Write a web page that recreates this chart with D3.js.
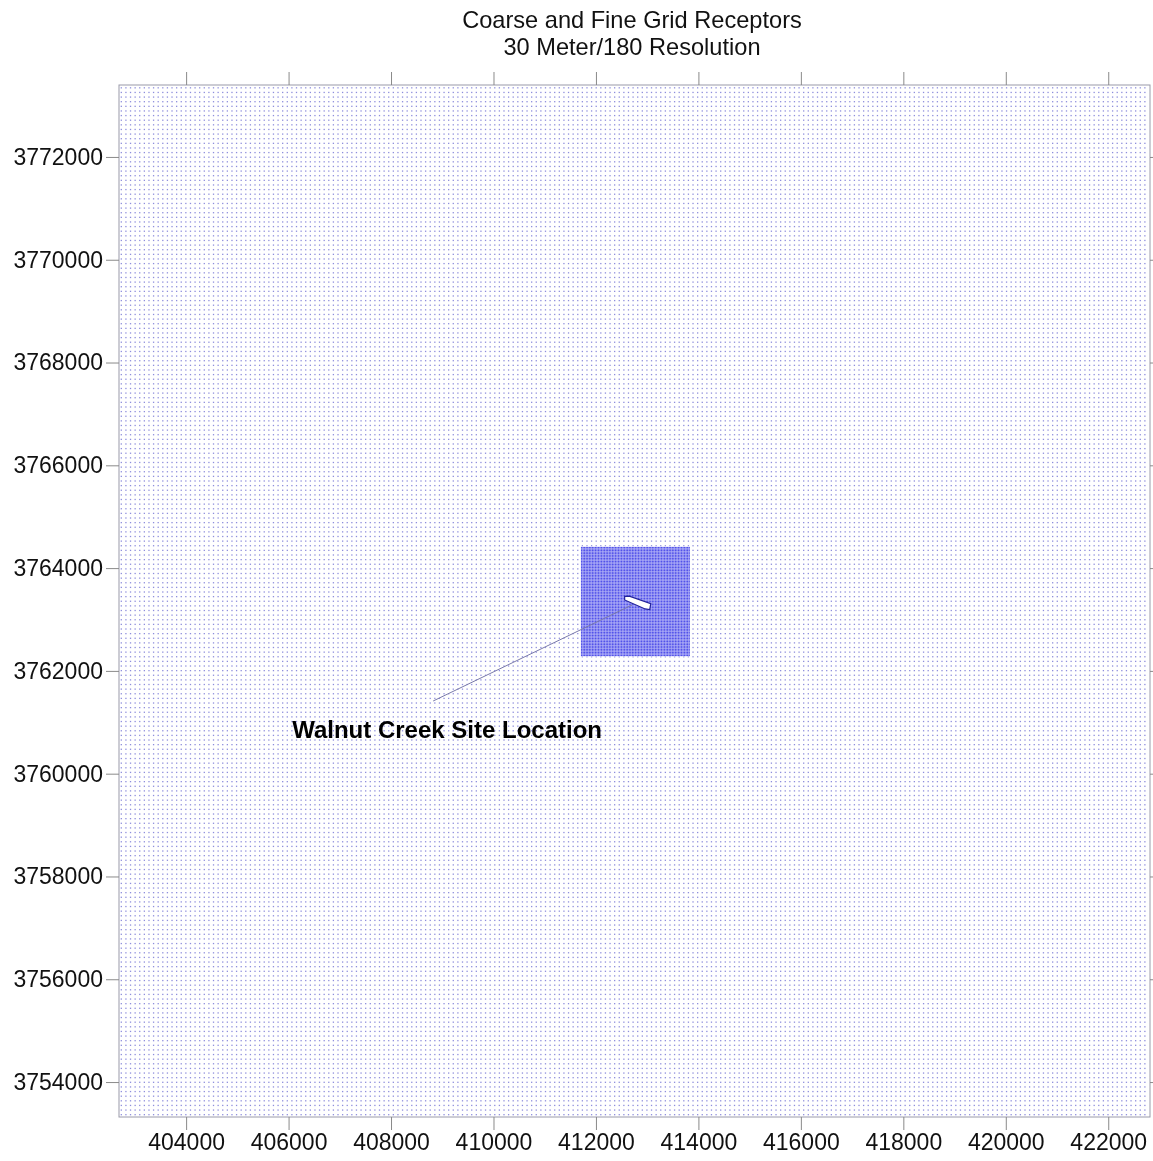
<!DOCTYPE html>
<html>
<head>
<meta charset="utf-8">
<script src="https://cdn.jsdelivr.net/npm/d3@7"></script>
<style>
  body { margin: 0; background: #fff; }
  #wrap { position: relative; width: 1153px; height: 1161px; }
  #wrap canvas, #wrap svg { position: absolute; left: 0; top: 0; }
  text { font-family: "Liberation Sans", Arial, sans-serif; }
</style>
</head>
<body>
<div id="wrap"><canvas id="cv" width="1153" height="1161"></canvas><svg id="sv" width="1153" height="1161"></svg></div>
<script>
// ---- data ----
const titleLines = ["Coarse and Fine Grid Receptors", "30 Meter/180 Resolution"];
const xDomain = [402690, 422815];
const yDomain = [3753320, 3773400];
const xTicks = [404000, 406000, 408000, 410000, 412000, 414000, 416000, 418000, 420000, 422000];
const yTicks = [3754000, 3756000, 3758000, 3760000, 3762000, 3764000, 3766000, 3768000, 3770000, 3772000];
// receptor grids: [start, end, spacing] in metres
const coarseGridX = [402735, 422800, 90];
const coarseGridY = [3753365, 3773380, 90];
const fineGridX = [411720, 413840, 30];
const fineGridY = [3762300, 3764400, 30];
// site outline (UTM metres)
const siteOutline = [[412560, 3763450], [412650, 3763455], [413070, 3763310], [413050, 3763195], [412960, 3763205], [412560, 3763380]];
const leaderLine = [[408822, 3761414], [412710, 3763285]];
const siteLabel = { text: "Walnut Creek Site Location", x: 406070, y: 3760694 };

// ---- scales ----
const W = 1153, H = 1161;
const plot = { left: 119, right: 1150, top: 85, bottom: 1117 };
const x = d3.scaleLinear().domain(xDomain).range([plot.left, plot.right]);
const y = d3.scaleLinear().domain(yDomain).range([plot.bottom, plot.top]);

function gridPoints(gx, gy) {
  const xs = d3.range(gx[0], gx[1] + 0.001, gx[2]);
  const ys = d3.range(gy[0], gy[1] + 0.001, gy[2]);
  const pts = [];
  for (const yy of ys) for (const xx of xs) pts.push([xx, yy]);
  return pts;
}
const coarsePts = gridPoints(coarseGridX, coarseGridY);
const finePts = gridPoints(fineGridX, fineGridY);

// ---- canvas receptors ----
const ctx = document.getElementById("cv").getContext("2d");
ctx.fillStyle = "#fff";
ctx.fillRect(0, 0, W, H);
ctx.fillStyle = "#8e8edc";
const cs = 1.3;
coarsePts.forEach(p => ctx.fillRect(x(p[0]) - cs / 2, y(p[1]) - cs / 2, cs, cs));
// fine grid area
ctx.fillStyle = "#ffffff";
ctx.fillRect(x(fineGridX[0]) - 1, y(fineGridY[1]) - 1, x(fineGridX[1]) - x(fineGridX[0]) + 2, y(fineGridY[0]) - y(fineGridY[1]) + 2);
ctx.fillStyle = "#5252ea";
const fs = 1.35;
finePts.forEach(p => ctx.fillRect(x(p[0]) - fs / 2, y(p[1]) - fs / 2, fs, fs));

// ---- svg overlay ----
const svg = d3.select("#sv");

svg.append("g").selectAll("text").data(titleLines).join("text")
  .attr("x", 632).attr("y", (d, i) => 28 + i * 27)
  .attr("text-anchor", "middle").attr("font-size", 23.6).attr("fill", "#111")
  .text(d => d);

svg.append("rect")
  .attr("x", plot.left).attr("y", plot.top)
  .attr("width", plot.right - plot.left).attr("height", plot.bottom - plot.top)
  .attr("fill", "none").attr("stroke", "#9a9aaa").attr("stroke-width", 1);

function styleAxis(g) {
  g.select(".domain").remove();
  g.selectAll(".tick line").attr("stroke", "#8a8a8a");
  g.selectAll(".tick text").attr("fill", "#111").attr("font-size", 23)
    .attr("font-family", "'Liberation Sans', Arial, sans-serif");
}
svg.append("g").attr("transform", `translate(0,${plot.bottom})`)
  .call(d3.axisBottom(x).tickValues(xTicks).tickSize(13).tickPadding(4).tickFormat(d3.format("d")))
  .call(styleAxis);
svg.append("g").attr("transform", `translate(0,${plot.top})`)
  .call(d3.axisTop(x).tickValues(xTicks).tickSize(13).tickFormat(""))
  .call(styleAxis);
svg.append("g").attr("transform", `translate(${plot.left},0)`)
  .call(d3.axisLeft(y).tickValues(yTicks).tickSize(13).tickPadding(3).tickFormat(d3.format("d")))
  .call(styleAxis);
svg.append("g").attr("transform", `translate(${plot.right},0)`)
  .call(d3.axisRight(y).tickValues(yTicks).tickSize(13).tickFormat(""))
  .call(styleAxis);

// leader line
svg.append("path")
  .attr("d", d3.line().x(d => x(d[0])).y(d => y(d[1]))(leaderLine))
  .attr("stroke", "#7a7aaa").attr("stroke-width", 1).attr("fill", "none");

// site outline
svg.append("path")
  .attr("d", d3.line().x(d => x(d[0])).y(d => y(d[1])).curve(d3.curveLinearClosed)(siteOutline))
  .attr("fill", "#fff").attr("stroke", "#22229a").attr("stroke-width", 1.2);

svg.append("text")
  .attr("x", x(siteLabel.x)).attr("y", y(siteLabel.y))
  .attr("font-size", 24).attr("font-weight", "bold").attr("fill", "#000")
  .text(siteLabel.text);
</script>
</body>
</html>
